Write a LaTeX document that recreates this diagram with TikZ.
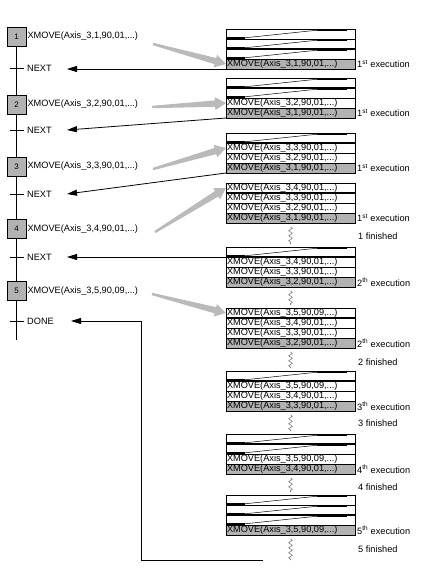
\documentclass[tikz,border=0pt]{standalone}
\usepackage{fontspec}
\setmainfont{Liberation Sans}
\usetikzlibrary{positioning,calc,arrows.meta,decorations.pathmorphing}

\definecolor{stackgray}{RGB}{178,178,178}
\definecolor{pushgray}{RGB}{186,186,186}
\newcommand{\labelfont}{\fontsize{9.2}{10}\selectfont}
\newcommand{\xmove}[1]{XMOVE(Axis\_3,#1,...)}

\newcommand{\blankrow}[1]{%
  \coordinate (bl) at ([shift={(1pt,1.2pt)}]#1.south west);
  \coordinate (br) at ([shift={(-8pt,-1.2pt)}]#1.north east);
  \draw[line width=0.5pt] (bl) -- ++(18,0) -- ([xshift=-30pt]br) -- (br);
  \draw[line width=1.4pt] (bl) -- ++(18,0) ([xshift=-30pt]br) -- (br);}

\newcommand{\stackrow}[3]{%
  \node[row, #2] (#1) {#3};
  \if\relax\detokenize{#3}\relax\blankrow{#1}\fi}

\newcommand{\stackof}[6]{%
  \stackrow{#1a}{anchor=north west, at={(226,#2)}}{#3}
  \stackrow{#1b}{below=0pt of #1a}{#4}
  \stackrow{#1c}{below=0pt of #1b}{#5}
  \stackrow{#1d}{below=0pt of #1c, fill=stackgray}{#6}}

\newcommand{\pusharrow}[2]{%
  \coordinate (pn) at ($(#2)!11pt!(#1)$);
  \fill[pushgray] ($(#1)!1.2pt!90:(#2)$) -- ($(pn)!3.2pt!90:(#2)$)
    -- ($(pn)!6.5pt!90:(#2)$) -- (#2) -- ($(pn)!6.5pt!-90:(#2)$)
    -- ($(pn)!3.2pt!-90:(#2)$) -- ($(#1)!1.2pt!-90:(#2)$) -- cycle;}

\begin{document}
\begin{tikzpicture}[x=1pt,y=-1pt,
    every node/.style={font=\labelfont},
    stepbox/.style={draw, line width=0.8pt, fill=stackgray, minimum size=19pt,
      inner sep=0pt, font=\fontsize{8}{9}\selectfont},
    lbl/.style={anchor=west, inner sep=0pt},
    row/.style={draw, line width=0.8pt, text width=127pt, inner xsep=1pt,
      inner ysep=0pt, outer sep=0pt, minimum height=10pt, text height=6.6pt,
      text depth=2pt},
    sep/.style={line width=1.5pt},
    tick/.style={line width=0.8pt},
    retarrow/.style={line width=0.8pt, -{Triangle[length=10pt,width=6pt]}},
    wiggle/.style={draw=gray, line width=0.6pt, decorate,
      decoration={zigzag, amplitude=1.8pt, segment length=5pt}}]
  \useasboundingbox (0,0) rectangle (440,568);

  \coordinate (t1) at (16.5,68);
  \coordinate (t2) at (16.5,130);
  \coordinate (t3) at (16.5,194);
  \coordinate (t4) at (16.5,257);
  \coordinate (t5) at (16.5,321);
  \coordinate (lend) at (16.5,340);
  \coordinate (k1) at (67,69);
  \coordinate (k2) at (67,130);
  \coordinate (k3) at (67,194);
  \coordinate (k4) at (67,257);
  \coordinate (k5) at (71,321);
  \coordinate (d0) at (263,560);
  \coordinate (dc) at (141,560);
  \coordinate (g1) at (153,44);
  \coordinate (g2) at (152,107);
  \coordinate (g3) at (153,169);
  \coordinate (g4) at (155,232);
  \coordinate (g5) at (152,294);

  \node[stepbox] (s1) at (16.5,36.5) {1};
  \node[stepbox] (s2) at (16.5,104.5) {2};
  \node[stepbox] (s3) at (16.5,166.5) {3};
  \node[stepbox] (s4) at (16.5,229) {4};
  \node[stepbox] (s5) at (16.5,291) {5};
  \draw[line width=0.8pt] (s1) -- (s2) -- (s3) -- (s4) -- (s5) -- (lend);
  \foreach \tn in {1,...,5} {\draw[tick] ([xshift=-7pt]t\tn) -- ([xshift=7pt]t\tn);}

  \node[lbl, right=1pt of s1] (x1) {\xmove{1,90,01}};
  \node[lbl, right=1pt of s2] (x2) {\xmove{2,90,01}};
  \node[lbl, right=1pt of s3] (x3) {\xmove{3,90,01}};
  \node[lbl, right=1pt of s4] (x4) {\xmove{4,90,01}};
  \node[lbl, right=1pt of s5] (x5) {\xmove{5,90,09}};
  \node[lbl] (n1) at (27,68) {NEXT};
  \node[lbl] (n2) at (27,130) {NEXT};
  \node[lbl] (n3) at (27,194) {NEXT};
  \node[lbl] (n4) at (27,257) {NEXT};
  \node[lbl] (n5) at (27,321) {DONE};

  \stackof{r1}{29}{}{}{}{\xmove{1,90,01}}
  \stackof{r2}{78}{}{}{\xmove{2,90,01}}{\xmove{1,90,01}}
  \stackof{r3}{133}{}{\xmove{3,90,01}}{\xmove{2,90,01}}{\xmove{1,90,01}}
  \stackof{r4}{183}{\xmove{4,90,01}}{\xmove{3,90,01}}{\xmove{2,90,01}}{\xmove{1,90,01}}
  \stackof{r5}{247}{}{\xmove{4,90,01}}{\xmove{3,90,01}}{\xmove{2,90,01}}
  \stackof{r6}{308}{\xmove{5,90,09}}{\xmove{4,90,01}}{\xmove{3,90,01}}{\xmove{2,90,01}}
  \stackof{r7}{371}{}{\xmove{5,90,09}}{\xmove{4,90,01}}{\xmove{3,90,01}}
  \stackof{r8}{434}{}{}{\xmove{5,90,09}}{\xmove{4,90,01}}
  \stackof{r9}{495}{}{}{}{\xmove{5,90,09}}
  \draw[sep] (r1b.south west) -- (r1b.south east);
  \foreach \sn in {2,...,8} {\draw[sep] (r\sn a.south west) -- (r\sn a.south east);}
  \draw[sep] (r9b.south west) -- (r9b.south east);

  \node[lbl, right=2pt of r1d] (e1) {1\textsuperscript{st} execution};
  \node[lbl, right=2pt of r2d] (e2) {1\textsuperscript{st} execution};
  \node[lbl, right=2pt of r3d] (e3) {1\textsuperscript{st} execution};
  \node[lbl, right=2pt of r4d] (e4) {1\textsuperscript{st} execution};
  \node[lbl, right=2pt of r5d] (e5) {2\textsuperscript{th} execution};
  \node[lbl, right=2pt of r6d] (e6) {2\textsuperscript{th} execution};
  \node[lbl, right=2pt of r7d] (e7) {3\textsuperscript{th} execution};
  \node[lbl, right=2pt of r8d] (e8) {4\textsuperscript{th} execution};
  \node[lbl, right=2pt of r9d] (e9) {5\textsuperscript{th} execution};
  \node[lbl] (f1) at (358,236) {1 finished};
  \node[lbl] (f2) at (358,362) {2 finished};
  \node[lbl] (f3) at (358,423) {3 finished};
  \node[lbl] (f4) at (358,487) {4 finished};
  \node[lbl] (f5) at (358,549) {5 finished};

  \foreach \ta/\tb in {4/5,5/6,6/7,7/8,8/9} {\draw[wiggle] ([yshift=-4pt]r\ta d.south) -- ([yshift=3pt]r\tb a.north);}
  \draw[wiggle] ([yshift=-4pt]r9d.south) -- (r9d.south |- d0);

  \pusharrow{g1}{r1d.west}
  \pusharrow{g2}{r2c.west}
  \pusharrow{g3}{r3b.west}
  \pusharrow{g4}{r4a.west}
  \pusharrow{g5}{r6a.west}

  \draw[retarrow] (r1d.south west) -- (k1);
  \draw[retarrow] (r2d.south west) -- (k2);
  \draw[retarrow] (r3d.south west) -- (k3);
  \draw[retarrow] (r5a.south west) -- (k4);
  \draw[retarrow] (d0) -- (dc) |- (k5);
\end{tikzpicture}
\end{document}
